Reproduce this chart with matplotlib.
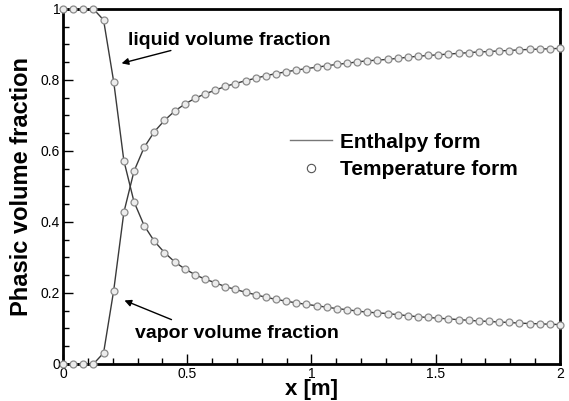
import numpy as np
import matplotlib.pyplot as plt
from matplotlib.lines import Line2D
from matplotlib.ticker import MultipleLocator

plt.rcParams['font.family'] = ['Liberation Sans', 'DejaVu Sans']

# 50 nodes between 0 and 2 m
x_m = np.linspace(0.0, 2.0, 50)

# liquid volume fraction
liquid = [
    1.000, 1.000, 1.000, 1.000, 0.969, 0.795, 0.573, 0.457, 0.390, 0.346,
    0.314, 0.288, 0.268, 0.252, 0.239, 0.229, 0.218, 0.210, 0.202, 0.195,
    0.188, 0.182, 0.177, 0.172, 0.168, 0.164, 0.160, 0.156, 0.153, 0.149,
    0.146, 0.144, 0.142, 0.139, 0.136, 0.133, 0.131, 0.129, 0.127, 0.125,
    0.123, 0.121, 0.120, 0.118, 0.117, 0.115, 0.114, 0.113, 0.112, 0.111,
]

# vapor volume fraction
vapor = [
    0.000, 0.000, 0.000, 0.000, 0.031, 0.207, 0.427, 0.543, 0.610, 0.654,
    0.686, 0.712, 0.732, 0.748, 0.761, 0.771, 0.782, 0.790, 0.798, 0.805,
    0.812, 0.818, 0.823, 0.828, 0.832, 0.836, 0.840, 0.844, 0.847, 0.851,
    0.854, 0.856, 0.858, 0.861, 0.864, 0.867, 0.869, 0.871, 0.873, 0.875,
    0.877, 0.879, 0.880, 0.882, 0.883, 0.885, 0.886, 0.887, 0.888, 0.889,
]

LINE_COLOR = "#3a3a3a"
MARKER_EDGE = "#8a8a8a"


def main():
    fig = plt.figure(figsize=(5.69, 4.01), dpi=100)
    ax = fig.add_axes([0.1107, 0.0923, 0.8735, 0.8853])

    for series in (liquid, vapor):
        ax.plot(x_m, series, color=LINE_COLOR, lw=1.0, zorder=2)
        ax.plot(x_m, series, ls="none", marker="o", ms=5.0, mfc="#ececec",
                mec=MARKER_EDGE, mew=0.9, zorder=3, clip_on=False)

    ax.set_xlim(0, 2)
    ax.set_ylim(0, 1)
    ax.xaxis.set_minor_locator(MultipleLocator(0.1))
    ax.yaxis.set_minor_locator(MultipleLocator(0.05))
    ax.set_xticks([0, 0.5, 1, 1.5, 2])
    ax.set_xticklabels(["0", "0.5", "1", "1.5", "2"])
    ax.set_yticks([0, 0.2, 0.4, 0.6, 0.8, 1])
    ax.set_yticklabels(["0", "0.2", "0.4", "0.6", "0.8", "1"])
    ax.tick_params(which="both", direction="in", top=False, right=False,
                   width=1.0, labelsize=10)
    ax.tick_params(which="major", length=7, pad=2)
    ax.tick_params(which="minor", length=4)
    for sp in ax.spines.values():
        sp.set_linewidth(2.0)

    ax.set_xlabel("x [m]", fontsize=16, fontweight="bold")
    ax.xaxis.set_label_coords(0.5, -0.072)
    ax.xaxis.label.set_va("center")
    ax.set_ylabel("Phasic volume fraction", fontsize=17, fontweight="bold")
    ax.yaxis.set_label_coords(-0.083, 0.5)
    ax.yaxis.label.set_va("center")

    ax.annotate("", xy=(0.225, 0.845), xytext=(0.445, 0.885),
                arrowprops=dict(arrowstyle="-|>", color="black", lw=1.0,
                                mutation_scale=10))
    ax.text(0.26, 0.912, "liquid volume fraction", fontsize=14,
            fontweight="bold", va="center")

    ax.annotate("", xy=(0.237, 0.182), xytext=(0.447, 0.122),
                arrowprops=dict(arrowstyle="-|>", color="black", lw=1.0,
                                mutation_scale=10))
    ax.text(0.29, 0.085, "vapor volume fraction", fontsize=14,
            fontweight="bold", va="center")

    handles = [
        Line2D([], [], color="#777777", lw=1.0),
        Line2D([], [], ls="none", marker="o", ms=6, mfc="white",
               mec="#555555", mew=0.8),
    ]
    ax.legend(handles, ["Enthalpy form", "Temperature form"],
              loc="upper left", bbox_to_anchor=(0.457, 0.652), frameon=False,
              prop={"weight": "bold", "size": 15},
              handlelength=2.0, handletextpad=0.4, labelspacing=0.42,
              borderpad=0, borderaxespad=0)

    fig.savefig("out.png", dpi=100)
    plt.close(fig)


if __name__ == "__main__":
    main()
